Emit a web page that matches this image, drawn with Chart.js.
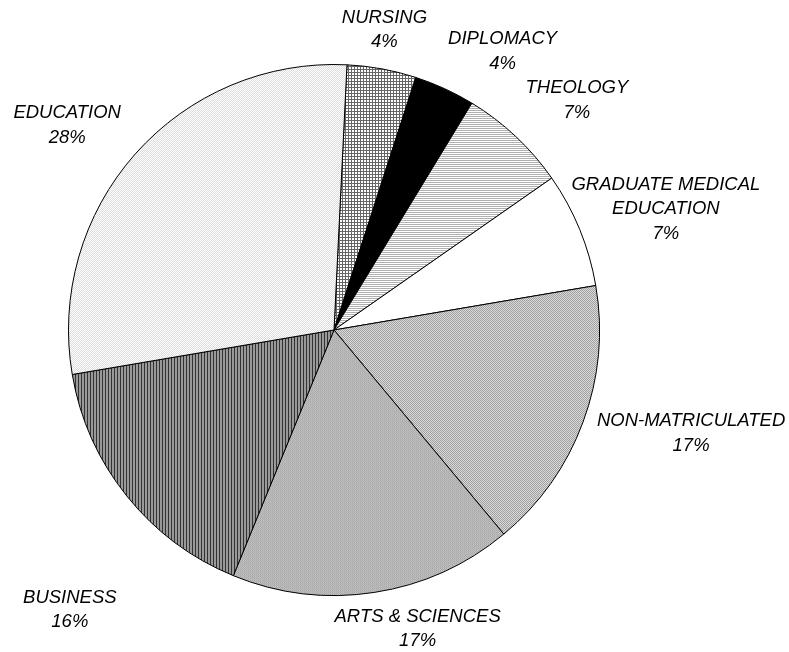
<!DOCTYPE html>
<html>
<head>
<meta charset="utf-8">
<script src="https://cdn.jsdelivr.net/npm/chart.js@4.4.1/dist/chart.umd.min.js"></script>
<style>
  html, body { margin: 0; padding: 0; background: #fff; }
  #wrap { width: 789px; height: 652px; position: relative; }
</style>
</head>
<body>
<div id="wrap"><canvas id="chart"></canvas></div>
<script>
// slice order: clockwise starting just right of 12 o'clock
const categories = ['NURSING', 'DIPLOMACY', 'THEOLOGY', 'GRADUATE MEDICAL EDUCATION',
  'NON-MATRICULATED', 'ARTS & SCIENCES', 'BUSINESS', 'EDUCATION'];
const labelLines = [['NURSING'], ['DIPLOMACY'], ['THEOLOGY'], ['GRADUATE MEDICAL', 'EDUCATION'],
  ['NON-MATRICULATED'], ['ARTS & SCIENCES'], ['BUSINESS'], ['EDUCATION']];
const shares = [4.2, 3.7, 6.6, 7.0, 16.6, 17.2, 16.1, 28.4];

// where each label block sits, relative to the pie centre, in units of the radius
const labelOffsetX = [0.19, 0.635, 0.915, 1.25, 1.345, 0.315, -0.995, -1.005];
const labelOffsetY = [-1.13, -1.05, -0.865, -0.455, 0.39, 1.125, 1.055, -0.77];

// tiny pixel tiles -> canvas patterns (mimic the old b/w hatch fills)
function tile(rows) {
  const c = document.createElement('canvas');
  c.width = rows[0].length; c.height = rows.length;
  const g = c.getContext('2d');
  rows.forEach((r, y) => r.forEach((col, x) => { g.fillStyle = col; g.fillRect(x, y, 1, 1); }));
  return g.createPattern(c, 'repeat');
}
const W = '#ffffff';
const fills = [
  tile([['#666', '#666', '#666'], ['#666', W, W], ['#666', W, W]]),          // nursing grid
  '#000000',                                                                   // diplomacy
  tile([['#b0b0b0', '#b0b0b0'], [W, W]]),                                      // theology
  '#ffffff',                                                                   // graduate medical
  tile([['#a0a0a0', '#dadada'], ['#dadada', '#a0a0a0']]),                     // non-matric
  tile([['#a8a8a8', '#c2c2c2'], ['#bcbcbc', '#aeaeae']]),                     // arts
  tile([['#333', '#999', '#999']]),                                            // business
  tile([[W, '#dcdcdc'], ['#dcdcdc', W]]),                                      // education
];

const FONT = 'italic 18.5px "Liberation Sans", Arial, sans-serif';
const LINE_H = 24.5;

const outsideLabels = {
  id: 'outsideLabels',
  afterDatasetsDraw(chart) {
    const ctx = chart.ctx;
    const meta = chart.getDatasetMeta(0);
    const total = shares.reduce((a, b) => a + b, 0);
    ctx.save();
    ctx.font = FONT;
    ctx.fillStyle = '#000';
    ctx.textAlign = 'center';
    ctx.textBaseline = 'middle';
    meta.data.forEach((arc, i) => {
      const { x, y, outerRadius } = arc.getProps(['x', 'y', 'outerRadius'], true);
      const lines = labelLines[i].concat([Math.round(shares[i] / total * 100) + '%']);
      const h = lines.length * LINE_H;
      const cx = x + labelOffsetX[i] * outerRadius;
      const cy = y + labelOffsetY[i] * outerRadius;
      lines.forEach((l, k) => {
        ctx.fillText(l, cx, cy - h / 2 + LINE_H / 2 + k * LINE_H);
      });
    });
    ctx.restore();
  }
};

new Chart(document.getElementById('chart'), {
  type: 'pie',
  data: {
    labels: categories,
    datasets: [{
      data: shares,
      backgroundColor: fills,
      borderColor: '#000',
      borderWidth: 1,
      borderAlign: 'center',
    }]
  },
  options: {
    responsive: true,
    maintainAspectRatio: false,
    animation: false,
    rotation: 2.8,
    layout: { padding: { top: 64, bottom: 56, left: 60, right: 181 } },
    plugins: {
      legend: { display: false },
      tooltip: { enabled: false },
    }
  },
  plugins: [outsideLabels]
});
</script>
</body>
</html>
